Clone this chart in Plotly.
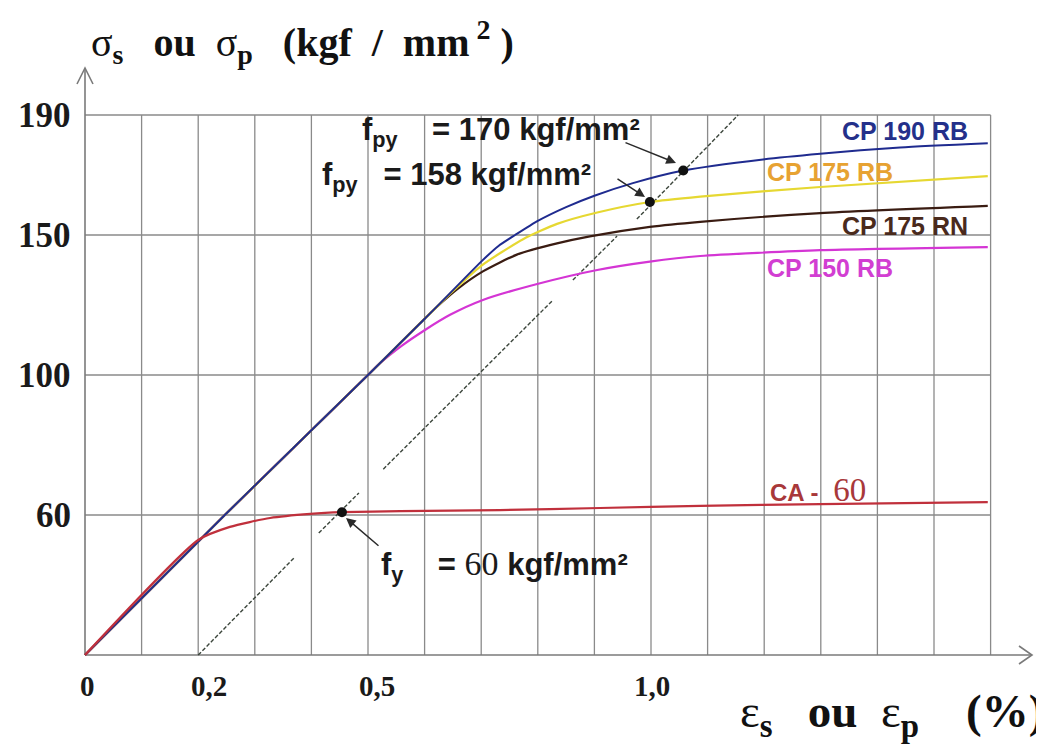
import numpy as np
import plotly.graph_objects as go

# ---------------- data ----------------
strain_ca60 = [0, 0.200, 0.256, 0.327, 0.398, 0.454, 0.557, 0.733, 0.910, 1.087, 1.299, 1.595]
stress_ca60 = [0, 49.3, 54.9, 58.7, 60.3, 60.8, 61.1, 61.4, 62.0, 62.6, 63.1, 63.7]

strain_cp190rb = [0, 0.247, 0.5, 0.6, 0.7, 0.73, 0.76, 0.80, 0.85, 0.90, 0.968, 1.057, 1.198, 1.299, 1.440, 1.595]
stress_cp190rb = [0, 60, 100, 120.0, 140.5, 146.0, 150.0, 154.7, 159.3, 163.1, 167.3, 171.5, 175.2, 177.1, 179.2, 180.6]

strain_cp175rb = [0, 0.247, 0.5, 0.62, 0.645, 0.70, 0.774, 0.834, 0.905, 0.998, 1.087, 1.299, 1.595]
stress_cp175rb = [0, 60, 100, 124.0, 129.0, 139.0, 148.5, 153.7, 157.5, 161.0, 162.8, 166.0, 169.6]

strain_cp175rn = [0, 0.247, 0.5, 0.62, 0.66, 0.703, 0.763, 0.834, 0.892, 0.998, 1.087, 1.299, 1.595]
stress_cp175rn = [0, 60, 100, 124.0, 131.0, 137.0, 143.0, 147.0, 149.5, 152.7, 154.4, 157.3, 159.7]

strain_cp150rb = [0, 0.247, 0.5, 0.52, 0.56, 0.60, 0.645, 0.703, 0.799, 0.905, 0.998, 1.087, 1.299, 1.595]
stress_cp150rb = [0, 60, 100, 104.0, 110.5, 116.0, 121.5, 126.8, 132.5, 137.5, 140.5, 142.5, 144.6, 145.7]

# 0.2 % offset construction line (visible dashed pieces)
offset_strain = [[0.200, 0.371], [0.413, 0.484], [0.527, 0.825], [0.862, 0.940], [0.975, 1.154]]
offset_stress = [[0, 42.0], [52.3, 66.3], [73.1, 126.4], [133.9, 149.6], [155.3, 190]]

# yield points (dots)
yield_strain = [1.057, 0.998, 0.454]
yield_stress = [171.5, 161.0, 60.8]

# ticks
x_tick_vals = [0, 0.2, 0.5, 1.0]
x_tick_text = ["0", "0,2", "0,5", "1,0"]
x_grid = [0.1, 0.2, 0.3, 0.4, 0.5, 0.6, 0.7, 0.8, 0.9, 1.0, 1.1, 1.2, 1.3, 1.4, 1.5, 1.6]
y_tick_vals = [60, 100, 150, 190]
y_tick_text = ["60", "100", "150", "190"]

# ---------------- schematic (non-uniform) stress axis ----------------
Y_STOPS = [0, 60, 100, 150, 190]
Y_POS = [0, 1, 2, 3, 3.857]


def to_axis(v):
    return np.interp(np.asarray(v, dtype=float), Y_STOPS, Y_POS)


# page offset (body margin) and plot-area geometry in figure pixels
OFF = 8
L, T, W_PLOT, H_PLOT = 52, 52, 980, 610


def PX(px):  # screen pixel -> x data
    return (px - 85) / 566.0


def PY(py):  # screen pixel -> y data (display units)
    return (655 - py) / 140.0


def XP(px):  # screen pixel -> paper x
    return (px - OFF - L) / W_PLOT


def YP(py):  # screen pixel -> paper y
    return (T + H_PLOT - (py - OFF)) / H_PLOT


SERIF = "Liberation Serif, Times New Roman, serif"
SANS = "Liberation Sans, Arial, sans-serif"
NB = "\u00a0"

fig = go.Figure()

# offset line
ox, oy = [], []
for sx, sy in zip(offset_strain, offset_stress):
    ox += list(sx) + [None]
    oy += list(to_axis(sy)) + [None]
fig.add_trace(go.Scatter(x=ox, y=oy, mode="lines",
                         line=dict(color="#3c463c", width=1.4, dash="4px,2px"),
                         hoverinfo="skip", showlegend=False))

curves = [
    (strain_cp150rb, stress_cp150rb, "#d435d4", 2.2),
    (strain_cp175rn, stress_cp175rn, "#3a1c12", 2.2),
    (strain_cp175rb, stress_cp175rb, "#e6d832", 2.2),
    (strain_cp190rb, stress_cp190rb, "#1f2b8f", 2.0),
    (strain_ca60, stress_ca60, "#c0303c", 2.2),
]
for sx, sy, col, w in curves:
    fig.add_trace(go.Scatter(x=sx, y=to_axis(sy), mode="lines",
                             line=dict(color=col, width=w, shape="spline", smoothing=0.6),
                             hoverinfo="skip", showlegend=False))

fig.add_trace(go.Scatter(x=yield_strain, y=to_axis(yield_stress), mode="markers",
                         marker=dict(color="#111111", size=10),
                         hoverinfo="skip", showlegend=False))

# ---------------- grid & axes ----------------
shapes = []
grid_col = "#8a8a8a"
top_u = float(to_axis(190))
for gx in x_grid:
    shapes.append(dict(type="line", xref="x", yref="y", x0=gx, x1=gx, y0=0, y1=top_u,
                       line=dict(color=grid_col, width=1.3), layer="below"))
for gy in y_tick_vals:
    u = float(to_axis(gy))
    shapes.append(dict(type="line", xref="x", yref="y", x0=0, x1=x_grid[-1], y0=u, y1=u,
                       line=dict(color=grid_col, width=1.3), layer="below"))
axis_col = "#7a7a7a"
x_tip = PX(1032)
y_tip = PY(68)
shapes.append(dict(type="line", xref="x", yref="y", x0=0, x1=0, y0=0, y1=y_tip,
                   line=dict(color=axis_col, width=1.6), layer="below"))
shapes.append(dict(type="line", xref="x", yref="y", x0=0, x1=x_tip, y0=0, y1=0,
                   line=dict(color=axis_col, width=1.6), layer="below"))
shapes.append(dict(type="path", xref="x", yref="y",
                   path=f"M {PX(77)},{PY(84)} L 0,{y_tip} L {PX(93)},{PY(84)}",
                   line=dict(color=axis_col, width=1.6)))
shapes.append(dict(type="path", xref="x", yref="y",
                   path=f"M {PX(1019)},{PY(646)} L {x_tip},0 L {PX(1019)},{PY(664)}",
                   line=dict(color=axis_col, width=1.6)))

ann = []


def label(px, py, text, font, xanchor="left"):
    ann.append(dict(x=XP(px), y=YP(py), xref="paper", yref="paper", text=text,
                    showarrow=False, xanchor=xanchor, yanchor="middle", font=font))


# tick labels
for v, t in zip(y_tick_vals, y_tick_text):
    label(73, 655 - 140 * float(to_axis(v)), f"<b>{t}</b>",
          dict(family=SERIF, size=35, color="#1a1a1a"), xanchor="right")
x_shift_px = {0: 2, 0.2: 11, 0.5: 9, 1.0: 1}
for v, t in zip(x_tick_vals, x_tick_text):
    label(85 + 566 * v + x_shift_px.get(v, 0), 686, f"<b>{t}</b>",
          dict(family=SERIF, size=29, color="#1a1a1a"), xanchor="center")

# axis titles
label(89, 42,
      f"σ<b><sub>s</sub>{NB*3}ou{NB*2}</b>σ<b><sub>p</sub>{NB*3}(kgf{NB*2}/{NB*2}mm<sup>{NB}2</sup>{NB})</b>",
      dict(family=SERIF, size=40, color="#111111"))
label(738, 714,
      f"ε<b><sub>s</sub>{NB*3}ou{NB*2}</b>ε<b><sub>p</sub>{NB*4}(%)</b>",
      dict(family=SERIF, size=47, color="#111111"))

# curve labels
lf = 25
label(840, 131, "<b>CP 190 RB</b>", dict(family=SANS, size=lf, color="#24308a"))
label(765, 172, "<b>CP 175 RB</b>", dict(family=SANS, size=lf, color="#e7a232"))
label(840, 226, "<b>CP 175 RN</b>", dict(family=SANS, size=lf, color="#4a2a1c"))
label(765, 268, "<b>CP 150 RB</b>", dict(family=SANS, size=lf, color="#d23ed2"))
label(768, 490,
      f"<b>CA - </b><span style='font-family:Liberation Serif;font-size:33px'>{NB}60</span>",
      dict(family=SANS, size=24, color="#a8383a"))

# yield annotations
af = dict(family=SANS, size=31, color="#1a1a1a")
label(360, 132, f"<b>f<sub>py</sub>{NB*4}= 170 kgf/mm²</b>", af)
label(320, 177, f"<b>f<sub>py</sub>{NB*3}= 158 kgf/mm²</b>", af)
label(379, 566,
      f"<b>f<sub>y</sub>{NB*4}= </b><span style='font-family:Liberation Serif;font-size:34px'>60</span><b> kgf/mm²</b>",
      af)
for (tx, ty), (hx, hy) in [((624, 142), (676, 163)), ((616, 178), (645, 197)), ((380, 547), (346, 518))]:
    ann.append(dict(x=PX(hx), y=PY(hy), ax=PX(tx), ay=PY(ty), xref="x", yref="y",
                    axref="x", ayref="y", text="", showarrow=True, arrowhead=2,
                    arrowsize=1.3, arrowwidth=1.5, arrowcolor="#2a2a2a", standoff=0))

fig.update_layout(
    width=1044, height=746,
    margin=dict(l=L, r=1044 - L - W_PLOT, t=T, b=746 - T - H_PLOT),
    paper_bgcolor="white", plot_bgcolor="white",
    xaxis=dict(range=[-25 / 566.0, 955 / 566.0], visible=False, fixedrange=True),
    yaxis=dict(range=[-15 / 140.0, 595 / 140.0], visible=False, fixedrange=True),
    shapes=shapes, annotations=ann, showlegend=False,
)

fig.write_html("out.html")
